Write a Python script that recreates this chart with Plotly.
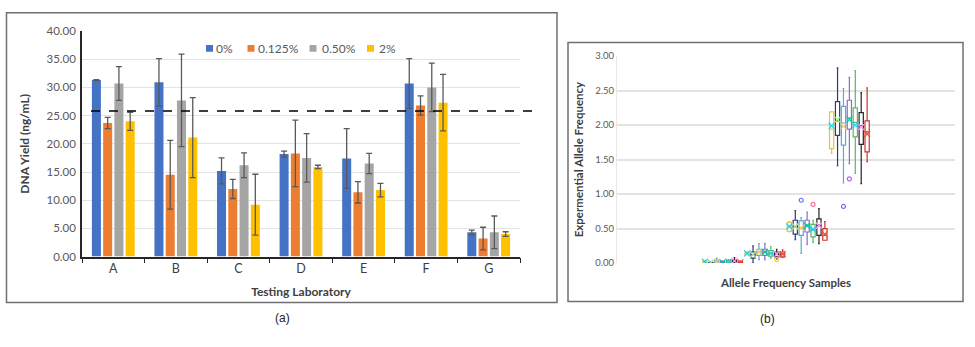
import plotly.graph_objects as go

# ---------------- Panel (a) data ----------------
labs = ["A", "B", "C", "D", "E", "F", "G"]
series_names = ["0%", "0.125%", "0.50%", "2%"]
bar_colors = ["#4472C4", "#ED7D31", "#A5A5A5", "#FFC000"]
yield_0 = [31.3, 30.9, 15.2, 18.2, 17.4, 30.7, 4.3]
yield_0125 = [23.7, 14.5, 12.0, 18.3, 11.4, 26.8, 3.2]
yield_050 = [30.7, 27.7, 16.2, 17.5, 16.5, 30.0, 4.3]
yield_2 = [24.0, 21.1, 9.2, 15.9, 11.8, 27.3, 4.0]
err_0 = [0.1, 4.2, 2.3, 0.5, 5.3, 4.4, 0.4]
err_0125 = [1.0, 6.1, 1.7, 5.9, 1.9, 1.7, 2.0]
err_050 = [3.0, 8.2, 2.2, 4.3, 1.8, 4.3, 2.9]
err_2 = [1.6, 7.1, 5.4, 0.3, 1.2, 5.0, 0.4]
threshold = 25.8
yticks_a = [0, 5, 10, 15, 20, 25, 30, 35, 40]

# ---------------- Panel (b) data ----------------
box_names = ["S1", "S2", "S3", "S4", "S5", "S6", "S7"]
box_colors = ["#E3C53A", "#2E3A7A", "#5AA8DE", "#8E6CC9", "#5CB56A", "#262626", "#C93430"]
af_groups = [0.02, 0.14, 0.5, 2.0]
lower = [[0.00, 0.12, 0.45, 1.59], [0.00, 0.00, 0.34, 1.41], [0.00, 0.05, 0.14, 1.16],
         [0.00, 0.05, 0.27, 1.44], [0.00, 0.07, 0.30, 1.30], [0.00, 0.06, 0.28, 1.15],
         [0.00, 0.08, 0.33, 1.47]]
q1 = [[0.00, 0.12, 0.46, 1.66], [0.00, 0.07, 0.42, 1.85], [0.00, 0.11, 0.40, 1.71],
      [0.00, 0.11, 0.45, 1.94], [0.01, 0.10, 0.38, 1.83], [0.01, 0.09, 0.40, 1.72],
      [0.00, 0.09, 0.33, 1.61]]
median = [[0.02, 0.14, 0.52, 1.94], [0.00, 0.12, 0.52, 2.06], [0.01, 0.16, 0.50, 2.03],
          [0.01, 0.16, 0.55, 2.10], [0.02, 0.14, 0.48, 2.04], [0.03, 0.13, 0.55, 1.99],
          [0.01, 0.13, 0.40, 1.90]]
q3 = [[0.03, 0.16, 0.59, 2.19], [0.01, 0.16, 0.62, 2.34], [0.04, 0.20, 0.61, 2.27],
      [0.02, 0.20, 0.62, 2.36], [0.04, 0.18, 0.56, 2.25], [0.05, 0.16, 0.64, 2.18],
      [0.02, 0.16, 0.50, 2.06]]
upper = [[0.03, 0.16, 0.60, 2.19], [0.02, 0.25, 0.76, 2.83], [0.07, 0.28, 0.66, 2.53],
         [0.03, 0.28, 0.74, 2.69], [0.05, 0.24, 0.62, 2.79], [0.08, 0.20, 0.79, 2.47],
         [0.03, 0.19, 0.60, 2.54]]
means = [[0.02, 0.14, 0.53, 1.99], [0.01, 0.12, 0.53, 2.08], [0.02, 0.16, 0.51, 1.98],
         [0.01, 0.16, 0.54, 2.08], [0.02, 0.14, 0.49, 2.00], [0.03, 0.13, 0.54, 1.97],
         [0.01, 0.13, 0.42, 1.87]]
outliers = [[[], [], [], []], [[], [], [], []], [[], [], [0.91], [0.82]],
            [[], [], [], [1.22]], [[], [], [0.85], []], [[], [0.05], [], []],
            [[], [], [], []]]
yticks_b = [0, 0.5, 1.0, 1.5, 2.0, 2.5, 3.0]

FONT = "Lato"
fig = go.Figure()

# bars
ys = [yield_0, yield_0125, yield_050, yield_2]
es = [err_0, err_0125, err_050, err_2]
for name, col, y, e in zip(series_names, bar_colors, ys, es):
    fig.add_trace(go.Bar(
        x=labs, y=y, name=name, marker=dict(color=col, line=dict(width=0)),
        error_y=dict(type="data", array=e, color="#595959", thickness=1.3, width=3),
        showlegend=False, xaxis="x", yaxis="y"))

# boxes
STEP = 0.14
for j, (nm, col) in enumerate(zip(box_names, box_colors)):
    xs = [g + (j - 3) * STEP for g in range(len(af_groups))]
    fig.add_trace(go.Box(
        x=xs, q1=q1[j], median=median[j], q3=q3[j], lowerfence=lower[j],
        upperfence=upper[j], name=nm, width=0.1, boxpoints=False,
        line=dict(color=col, width=1.2), fillcolor="rgba(255,255,255,1)",
        whiskerwidth=0.4, showlegend=False, xaxis="x2", yaxis="y2", hoverinfo="skip"))
    fig.add_trace(go.Scatter(
        x=xs, y=means[j], mode="markers",
        marker=dict(symbol="x-thin-open", size=6, line=dict(color=col, width=1.2)),
        showlegend=False, xaxis="x2", yaxis="y2", hoverinfo="skip"))
    ox, oy = [], []
    for g, vals in enumerate(outliers[j]):
        for v in vals:
            ox.append(xs[g])
            oy.append(v)
    if ox:
        fig.add_trace(go.Scatter(
            x=ox, y=oy, mode="markers",
            marker=dict(symbol="circle-open", size=4, line=dict(color=col, width=1.2)),
            showlegend=False, xaxis="x2", yaxis="y2", hoverinfo="skip"))

W, H = 975, 347
def px(x):
    return x / W
def py(y):
    return (H - y) / H

# legend drawn as colour keys + text (Excel-style compact legend)
legend_square_x = [209.5, 251, 313, 370.5]
legend_text_x = [214, 256, 320, 377]
LEG_Y = 43
shapes = []
annotations = []
for name, col, sx, tx in zip(series_names, bar_colors, legend_square_x, legend_text_x):
    shapes.append(dict(type="rect", xref="paper", yref="paper",
                       x0=px(sx - 3.5), x1=px(sx + 3.5), y0=py(LEG_Y + 3.5), y1=py(LEG_Y - 3.5),
                       fillcolor=col, line=dict(width=0)))
    annotations.append(dict(text=name, xref="paper", yref="paper", x=px(tx), y=py(LEG_Y),
                            xanchor="left", yanchor="middle", showarrow=False,
                            font=dict(size=12, color="#595959", family=FONT)))

shapes += [
    dict(type="line", xref="paper", yref="y", x0=px(91), x1=px(532), y0=threshold,
         y1=threshold, line=dict(color="black", width=1.5, dash="dash")),
    dict(type="rect", xref="paper", yref="paper", x0=px(6.5), x1=px(557), y0=py(307),
         y1=py(6), line=dict(color="#707070", width=1.5)),
    dict(type="rect", xref="paper", yref="paper", x0=px(568), x1=px(963), y0=py(306),
         y1=py(37), line=dict(color="#707070", width=1.5)),
]
annotations += [
    dict(text="(a)", xref="paper", yref="paper", x=px(273), y=py(332), showarrow=False,
         font=dict(size=12, color="#222222", family="Liberation Sans")),
    dict(text="(b)", xref="paper", yref="paper", x=px(777), y=py(334), showarrow=False,
         font=dict(size=12, color="#222222", family="Liberation Sans")),
]

fig.update_layout(
    width=W, height=H, margin=dict(l=0, r=0, t=0, b=0),
    paper_bgcolor="white", plot_bgcolor="white",
    font=dict(family=FONT, color="#595959"),
    barmode="group", bargap=0.28, bargroupgap=0.2,
    showlegend=False,
    xaxis=dict(domain=[px(82), px(520)], type="category", range=[-0.5, 6.5],
               showline=True, linecolor="#262626", linewidth=1.5,
               ticks="outside", tickson="boundaries", ticklen=5, tickcolor="#262626",
               tickfont=dict(size=12.5, color="#404040", family=FONT),
               title=dict(text="<b>Testing Laboratory</b>", font=dict(size=12, color="#404040"),
                          standoff=12),
               showgrid=False, zeroline=False),
    yaxis=dict(domain=[py(259.3), py(25)], range=[0, 40], tickvals=yticks_a,
               tickformat=".2f", tickfont=dict(size=11.5, color="#595959", family=FONT),
               showline=True, linecolor="#262626", linewidth=1.5, ticklabelstandoff=2,
               showgrid=True, gridcolor="#E3E3E3", gridwidth=1, zeroline=False,
               title=dict(text="<b>DNA Yield (ng/mL)</b>", font=dict(size=12, color="#404040"),
                          standoff=14)),
    xaxis2=dict(domain=[px(617), px(955)], range=[-2.5, 5.5], showticklabels=False,
                showgrid=False, zeroline=False, showline=False, anchor="y2",
                title=dict(text="<b>Allele Frequency Samples</b>",
                           font=dict(size=11.5, color="#404040"), standoff=15)),
    yaxis2=dict(domain=[py(266), py(51)], range=[0, 3.0], tickvals=yticks_b,
                tickformat=".2f", tickfont=dict(size=9.5, color="#595959", family=FONT),
                showgrid=True, gridcolor="#E3E3E3", gridwidth=1.5, zeroline=False,
                showline=True, linecolor="#E8E8E8", anchor="x2",
                title=dict(text="<b>Expermential Allele Frequency</b>",
                           font=dict(size=11.5, color="#404040"), standoff=9)),
    shapes=shapes,
    annotations=annotations,
)

fig.write_html("out.html")
